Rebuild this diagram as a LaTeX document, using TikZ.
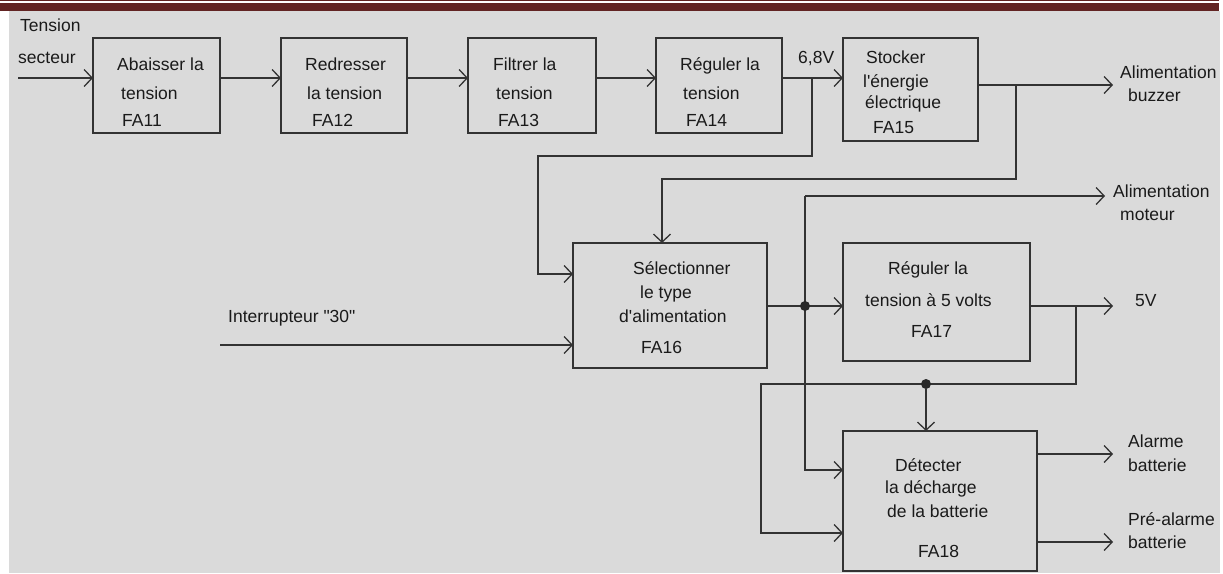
\documentclass[tikz,border=0pt]{standalone}
\usepackage{fontspec}
\setmainfont{Liberation Sans}[Ligatures=TeXOff]
\usetikzlibrary{arrows.meta}
\definecolor{pagebg}{HTML}{DADADA}
\definecolor{headred}{HTML}{622423}
\definecolor{ink}{HTML}{333333}
\definecolor{txt}{HTML}{1A1A1A}
\begin{document}
\begin{tikzpicture}[x=1pt,y=-1pt,
  blk/.style={draw=ink,line width=1.3pt,inner sep=0pt,outer sep=0pt,rectangle},
  lbl/.style={anchor=base west,inner sep=0pt,text=txt,font=\fontsize{17.5}{21}\selectfont},
  wire/.style={draw=ink,line width=1.3pt},
  arr/.style={wire,-{Straight Barb[length=8pt,width=17pt,line width=1.3pt]}},
  junction/.style={circle,fill=ink!80!black,inner sep=0pt,minimum size=10pt}]
\useasboundingbox (0,0) rectangle (1223,573);
% page decoration: header rule and grey panel
\fill[white] (0,0) rectangle (1223,573);
\fill[pagebg] (9,11) rectangle (1220,573);
\fill[headred] (0,0) rectangle (1219,1.3);
\fill[headred] (0,3) rectangle (1219,11);

% function blocks
\node[blk,minimum width=127pt,minimum height=95pt]  (fa11) at (156.5,85.5) {};
\node[blk,minimum width=126pt,minimum height=95pt]  (fa12) at (344,85.5) {};
\node[blk,minimum width=128pt,minimum height=95pt]  (fa13) at (532,85.5) {};
\node[blk,minimum width=126pt,minimum height=95pt]  (fa14) at (719,85.5) {};
\node[blk,minimum width=135pt,minimum height=103pt] (fa15) at (910.5,89.5) {};
\node[blk,minimum width=194pt,minimum height=125pt] (fa16) at (670,305.5) {};
\node[blk,minimum width=187pt,minimum height=118pt] (fa17) at (936.5,302) {};
\node[blk,minimum width=194pt,minimum height=140pt] (fa18) at (940,501) {};

% block texts
\node[lbl] (t11a) at (117,70) {Abaisser la};
\node[lbl] (t11b) at (121,99) {tension};
\node[lbl] (t11c) at (122,126) {FA11};
\node[lbl] (t12a) at (305,70) {Redresser};
\node[lbl] (t12b) at (307,99) {la tension};
\node[lbl] (t12c) at (312,126) {FA12};
\node[lbl] (t13a) at (493,70) {Filtrer la};
\node[lbl] (t13b) at (496,99) {tension};
\node[lbl] (t13c) at (498,126) {FA13};
\node[lbl] (t14a) at (680,70) {Réguler la};
\node[lbl] (t14b) at (683,99) {tension};
\node[lbl] (t14c) at (686,126) {FA14};
\node[lbl] (t15a) at (866,63) {Stocker};
\node[lbl] (t15b) at (863,87) {l'énergie};
\node[lbl] (t15c) at (865,108) {électrique};
\node[lbl] (t15d) at (873,133) {FA15};
\node[lbl] (t16a) at (633,274) {Sélectionner};
\node[lbl] (t16b) at (640,298) {le type};
\node[lbl] (t16c) at (619,322) {d'alimentation};
\node[lbl] (t16d) at (641,353) {FA16};
\node[lbl] (t17a) at (888,274) {Réguler la};
\node[lbl] (t17b) at (865,306) {tension à 5 volts};
\node[lbl] (t17c) at (911,337) {FA17};
\node[lbl] (t18a) at (895,471) {Détecter};
\node[lbl] (t18b) at (885,493) {la décharge};
\node[lbl] (t18c) at (887,517) {de la batterie};
\node[lbl] (t18d) at (918,557) {FA18};

% signal labels
\node[lbl] (inA) at (20,31) {Tension};
\node[lbl] (inB) at (18,63) {secteur};
\node[lbl] (v68) at (798,63) {6,8V};
\node[lbl] (buzA) at (1120,78) {Alimentation};
\node[lbl] (buzB) at (1128,101) {buzzer};
\node[lbl] (motA) at (1113,197) {Alimentation};
\node[lbl] (motB) at (1120,220) {moteur};
\node[lbl] (sw30) at (228,322) {Interrupteur "30"};
\node[lbl] (v5) at (1135,306) {5V};
\node[lbl] (alA) at (1128,447) {Alarme};
\node[lbl] (alB) at (1128,471) {batterie};
\node[lbl] (paA) at (1128,525) {Pré-alarme};
\node[lbl] (paB) at (1128,548) {batterie};

% routing points
\coordinate (mains) at (18,78);
\coordinate (row1) at (0,78);
\coordinate (tap68) at (812,78);
\coordinate (buzout) at (1113,85);
\coordinate (tapbuz) at (1016,85);
\coordinate (motout) at (1105,196);
\coordinate (motcorner) at (805,196);
\coordinate (swin) at (220,345);
\coordinate (v5out) at (1113,306);
\coordinate (tap5) at (1076,306);
\coordinate (alout) at (1113,454);
\coordinate (paout) at (1113,542);

% main chain
\draw[arr] (mains) -- (mains -| fa11.west);
\draw[arr] (fa11.east |- row1) -- (fa12.west |- row1);
\draw[arr] (fa12.east |- row1) -- (fa13.west |- row1);
\draw[arr] (fa13.east |- row1) -- (fa14.west |- row1);
\draw[arr] (fa14.east |- row1) -- (fa15.west |- row1);

% 6,8V feed to the selector
\draw[arr] (tap68) -- (812,156) -- (538,156) -- (538,274) -- (fa16.west |- 0,274);

% stored energy: buzzer supply and feed to the selector
\draw[arr] (fa15.east |- buzout) -- (buzout);
\draw[arr] (tapbuz) -- (1016,179) -- (662,179) -- (fa16.north -| 662,0);

% switch input
\draw[arr] (swin) -- (swin -| fa16.west);

% selector output to the 5 V regulator, motor supply and detector
\draw[arr] (fa16.east |- 0,306) -- (fa17.west |- 0,306);
\draw[arr] (motcorner) -- (motout);
\draw[arr] (motcorner) -- (805,470) -- (fa18.west |- 0,470);
\node[junction] (j1) at (805,306) {};

% 5 V output and return to the detector
\draw[arr] (fa17.east |- v5out) -- (v5out);
\draw[arr] (tap5) -- (1076,384) -- (761,384) -- (761,533) -- (fa18.west |- 0,533);
\node[junction] (j2) at (926,384) {};
\draw[arr] (j2) -- (fa18.north -| j2);

% detector outputs
\draw[arr] (fa18.east |- alout) -- (alout);
\draw[arr] (fa18.east |- paout) -- (paout);
\end{tikzpicture}
\end{document}
